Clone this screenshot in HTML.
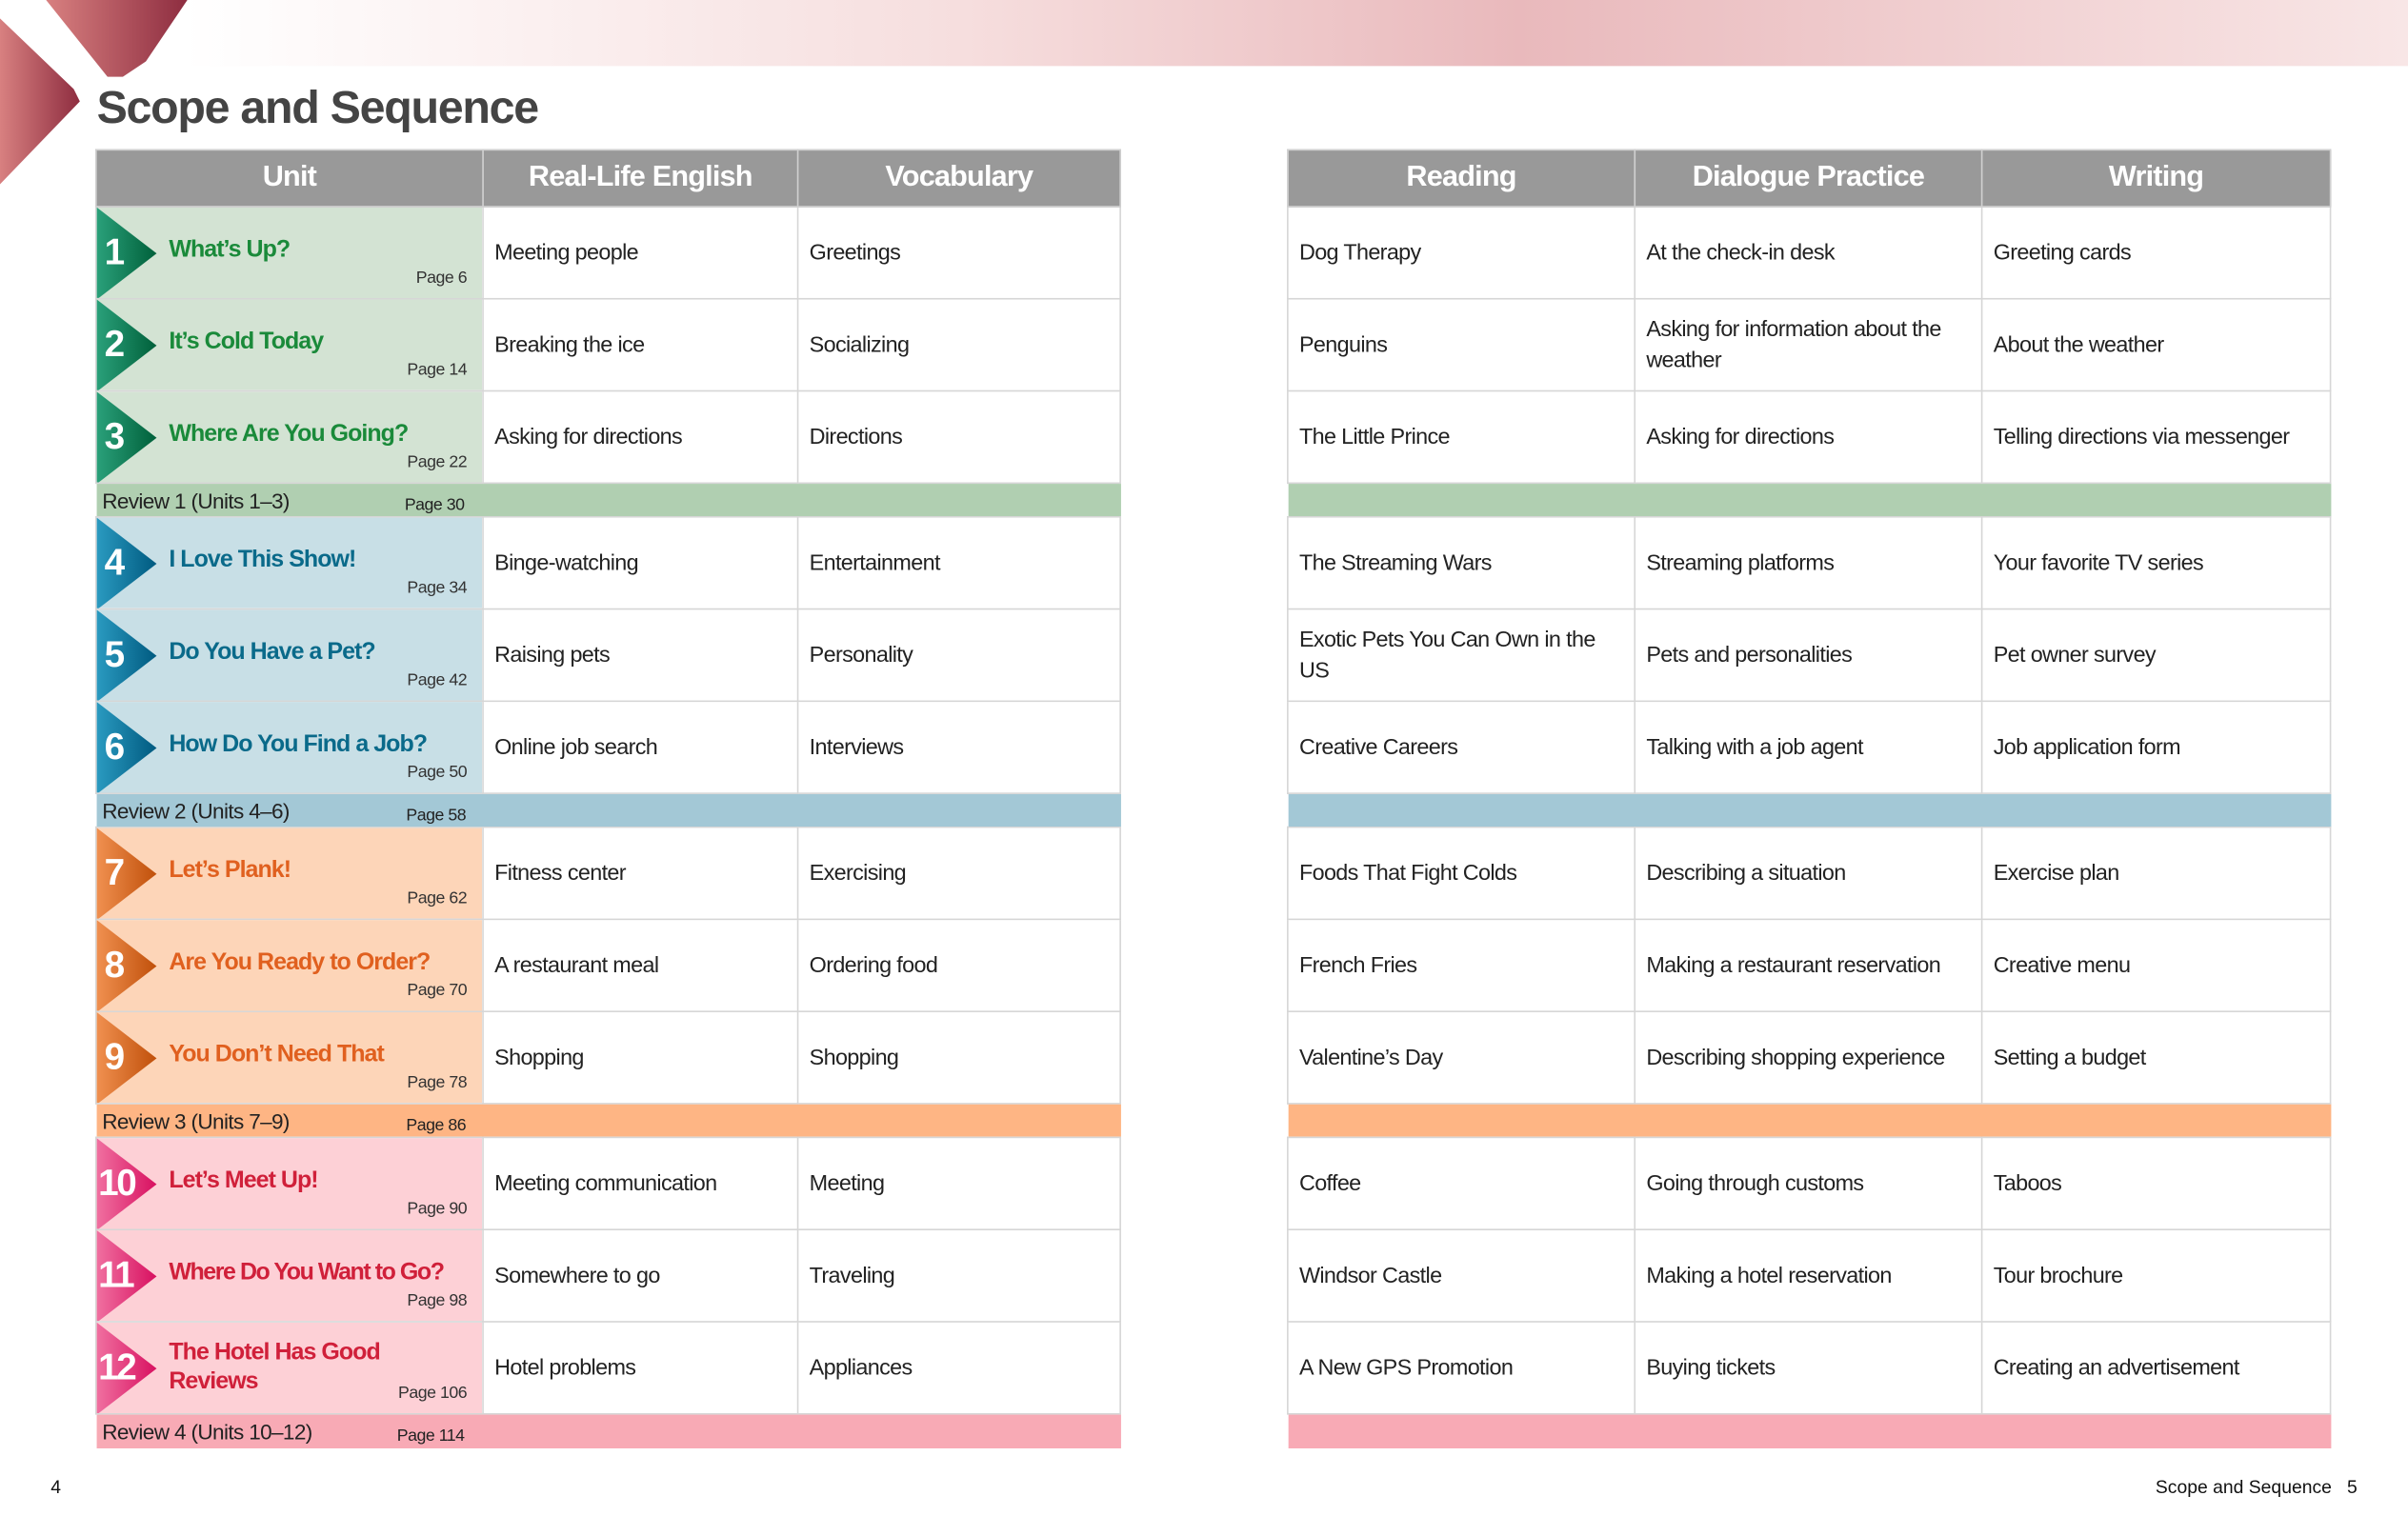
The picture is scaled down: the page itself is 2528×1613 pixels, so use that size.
<!DOCTYPE html>
<html><head><meta charset="utf-8"><style>
html,body{margin:0;padding:0;background:#fff;overflow:hidden}
#w{position:absolute;left:0;top:0;width:1568px;height:1000px;transform-origin:0 0;transform:scale(1.61224,1.613);font-family:"Liberation Sans",sans-serif}
.t{position:absolute;top:97px;border-collapse:collapse;table-layout:fixed;font-size:14.5px;color:#222;letter-spacing:-0.4px}
.t th{background:#999;color:#fff;height:36px;font-size:19px;font-weight:bold;border:1px solid #d0d0d0;padding:0;letter-spacing:-0.5px}
.t td{border:1px solid #d6d6d6;padding:0 7px;vertical-align:middle;line-height:20px;background:#fff;white-space:nowrap;overflow:hidden}
.t tr.r{height:60px}
.t tr.v{height:22px}
.t tr.v td{border:none;padding:0 4px;font-size:14px;position:relative}
td.u{position:relative;padding:0!important}
.u svg{position:absolute;left:0;top:0}
.n{position:absolute;left:5px;top:16px;color:#fff;font-weight:bold;font-size:24px;line-height:28px;letter-spacing:-1.5px}
.ti{position:absolute;left:47px;top:18px;font-weight:bold;font-size:15.5px;line-height:19px;width:200px;letter-spacing:-0.6px}
.pg{position:absolute;right:10px;bottom:3px;font-size:11px;color:#333;letter-spacing:-0.3px}
.rp{position:absolute;top:4px;font-size:11px;letter-spacing:-0.3px}
.g td.u{background:#d3e3d3}.g .ti{color:#1a8a3a}.gv td{background:#b0cfb1!important}
.b td.u{background:#c8dfe6}.b .ti{color:#0a6a8a}.bv td{background:#a3c8d6!important}
.o td.u{background:#fdd5b8}.o .ti{color:#e0601f}.ov td{background:#feb584!important}
.p td.u{background:#fdd0d6}.p .ti{color:#d0203a}.pv td{background:#f8aab5!important}
</style></head><body><div id="w">
<svg width="1568" height="130" style="position:absolute;left:0;top:0">
<defs>
<linearGradient id="top" x1="0" x2="1" y1="0" y2="0"><stop offset="0" stop-color="#fff"/><stop offset="0.35" stop-color="#f6dede"/><stop offset="0.6" stop-color="#e9b9bc"/><stop offset="1" stop-color="#f8e6e6"/></linearGradient>
<linearGradient id="lr" x1="0" x2="1"><stop offset="0" stop-color="#d88080"/><stop offset="1" stop-color="#8e2d40"/></linearGradient>
<linearGradient id="gg" x1="0" x2="1"><stop offset="0" stop-color="#2aa07a"/><stop offset="1" stop-color="#00603a"/></linearGradient>
<linearGradient id="gb" x1="0" x2="1"><stop offset="0" stop-color="#2a9ac0"/><stop offset="1" stop-color="#005a80"/></linearGradient>
<linearGradient id="go" x1="0" x2="1"><stop offset="0" stop-color="#f09050"/><stop offset="1" stop-color="#c0500a"/></linearGradient>
<linearGradient id="gp" x1="0" x2="1"><stop offset="0" stop-color="#f070a0"/><stop offset="1" stop-color="#d81060"/></linearGradient>
</defs>
<rect x="120" y="0" width="1448" height="43" fill="url(#top)"/>
<polygon points="30,0 122,0 95,40 80,50 70,50" fill="url(#lr)"/>
<polygon points="0,12 48,58 52,66 0,120" fill="url(#lr)"/>
</svg>
<div style="position:absolute;left:63px;top:54px;font-size:30px;font-weight:bold;color:#444;letter-spacing:-0.8px">Scope and Sequence</div>

<table class="t" style="left:62px;width:667px">
<colgroup><col style="width:252px"><col style="width:205px"><col style="width:210px"></colgroup>
<tr><th>Unit</th><th>Real-Life English</th><th>Vocabulary</th></tr>
<tr class="r g"><td class="u"><svg width="40" height="60"><polygon points="0,0 39,30 0,60" fill="url(#gg)"/></svg><span class="n">1</span><div class="ti">What’s Up?</div><div class="pg">Page 6</div></td><td>Meeting people</td><td>Greetings</td></tr>
<tr class="r g"><td class="u"><svg width="40" height="60"><polygon points="0,0 39,30 0,60" fill="url(#gg)"/></svg><span class="n">2</span><div class="ti">It’s Cold Today</div><div class="pg">Page 14</div></td><td>Breaking the ice</td><td>Socializing</td></tr>
<tr class="r g"><td class="u"><svg width="40" height="60"><polygon points="0,0 39,30 0,60" fill="url(#gg)"/></svg><span class="n">3</span><div class="ti">Where Are You Going?</div><div class="pg">Page 22</div></td><td>Asking for directions</td><td>Directions</td></tr>
<tr class="v gv"><td colspan="3">Review 1 (Units 1–3)<span class="rp" style="left:201px">Page 30</span></td></tr>
<tr class="r b"><td class="u"><svg width="40" height="60"><polygon points="0,0 39,30 0,60" fill="url(#gb)"/></svg><span class="n">4</span><div class="ti">I Love This Show!</div><div class="pg">Page 34</div></td><td>Binge-watching</td><td>Entertainment</td></tr>
<tr class="r b"><td class="u"><svg width="40" height="60"><polygon points="0,0 39,30 0,60" fill="url(#gb)"/></svg><span class="n">5</span><div class="ti">Do You Have a Pet?</div><div class="pg">Page 42</div></td><td>Raising pets</td><td>Personality</td></tr>
<tr class="r b"><td class="u"><svg width="40" height="60"><polygon points="0,0 39,30 0,60" fill="url(#gb)"/></svg><span class="n">6</span><div class="ti">How Do You Find a Job?</div><div class="pg">Page 50</div></td><td>Online job search</td><td>Interviews</td></tr>
<tr class="v bv"><td colspan="3">Review 2 (Units 4–6)<span class="rp" style="left:202px">Page 58</span></td></tr>
<tr class="r o"><td class="u"><svg width="40" height="60"><polygon points="0,0 39,30 0,60" fill="url(#go)"/></svg><span class="n">7</span><div class="ti">Let’s Plank!</div><div class="pg">Page 62</div></td><td>Fitness center</td><td>Exercising</td></tr>
<tr class="r o"><td class="u"><svg width="40" height="60"><polygon points="0,0 39,30 0,60" fill="url(#go)"/></svg><span class="n">8</span><div class="ti">Are You Ready to Order?</div><div class="pg">Page 70</div></td><td>A restaurant meal</td><td>Ordering food</td></tr>
<tr class="r o"><td class="u"><svg width="40" height="60"><polygon points="0,0 39,30 0,60" fill="url(#go)"/></svg><span class="n">9</span><div class="ti">You Don’t Need That</div><div class="pg">Page 78</div></td><td>Shopping</td><td>Shopping</td></tr>
<tr class="v ov"><td colspan="3">Review 3 (Units 7–9)<span class="rp" style="left:202px">Page 86</span></td></tr>
<tr class="r p"><td class="u"><svg width="40" height="60"><polygon points="0,0 39,30 0,60" fill="url(#gp)"/></svg><span class="n" style="left:1px">10</span><div class="ti">Let’s Meet Up!</div><div class="pg">Page 90</div></td><td>Meeting communication</td><td>Meeting</td></tr>
<tr class="r p"><td class="u"><svg width="40" height="60"><polygon points="0,0 39,30 0,60" fill="url(#gp)"/></svg><span class="n" style="left:1px">11</span><div class="ti" style="white-space:nowrap;letter-spacing:-0.9px">Where Do You Want to Go?</div><div class="pg">Page 98</div></td><td>Somewhere to go</td><td>Traveling</td></tr>
<tr class="r p"><td class="u"><svg width="40" height="60"><polygon points="0,0 39,30 0,60" fill="url(#gp)"/></svg><span class="n" style="left:1px">12</span><div class="ti" style="top:10px">The Hotel Has Good<br>Reviews</div><div class="pg">Page 106</div></td><td>Hotel problems</td><td>Appliances</td></tr>
<tr class="v pv"><td colspan="3">Review 4 (Units 10–12)<span class="rp" style="left:196px">Page 114</span></td></tr>
</table>

<table class="t" style="left:838px;width:679px">
<colgroup><col style="width:226px"><col style="width:226px"><col style="width:227px"></colgroup>
<tr><th>Reading</th><th>Dialogue Practice</th><th>Writing</th></tr>
<tr class="r"><td>Dog Therapy</td><td>At the check-in desk</td><td>Greeting cards</td></tr>
<tr class="r"><td>Penguins</td><td>Asking for information about the<br>weather</td><td>About the weather</td></tr>
<tr class="r"><td>The Little Prince</td><td>Asking for directions</td><td>Telling directions via messenger</td></tr>
<tr class="v gv"><td colspan="3"></td></tr>
<tr class="r"><td>The Streaming Wars</td><td>Streaming platforms</td><td>Your favorite TV series</td></tr>
<tr class="r"><td>Exotic Pets You Can Own in the<br>US</td><td>Pets and personalities</td><td>Pet owner survey</td></tr>
<tr class="r"><td>Creative Careers</td><td>Talking with a job agent</td><td>Job application form</td></tr>
<tr class="v bv"><td colspan="3"></td></tr>
<tr class="r"><td>Foods That Fight Colds</td><td>Describing a situation</td><td>Exercise plan</td></tr>
<tr class="r"><td>French Fries</td><td>Making a restaurant reservation</td><td>Creative menu</td></tr>
<tr class="r"><td>Valentine’s Day</td><td>Describing shopping experience</td><td>Setting a budget</td></tr>
<tr class="v ov"><td colspan="3"></td></tr>
<tr class="r"><td>Coffee</td><td>Going through customs</td><td>Taboos</td></tr>
<tr class="r"><td>Windsor Castle</td><td>Making a hotel reservation</td><td>Tour brochure</td></tr>
<tr class="r"><td>A New GPS Promotion</td><td>Buying tickets</td><td>Creating an advertisement</td></tr>
<tr class="v pv"><td colspan="3"></td></tr>
</table>

<div style="position:absolute;left:33px;top:961px;font-size:12px;color:#111">4</div>
<div style="position:absolute;right:33px;top:961px;font-size:12px;color:#111">Scope and Sequence&nbsp;&nbsp;&nbsp;5</div>
</div></body></html>
